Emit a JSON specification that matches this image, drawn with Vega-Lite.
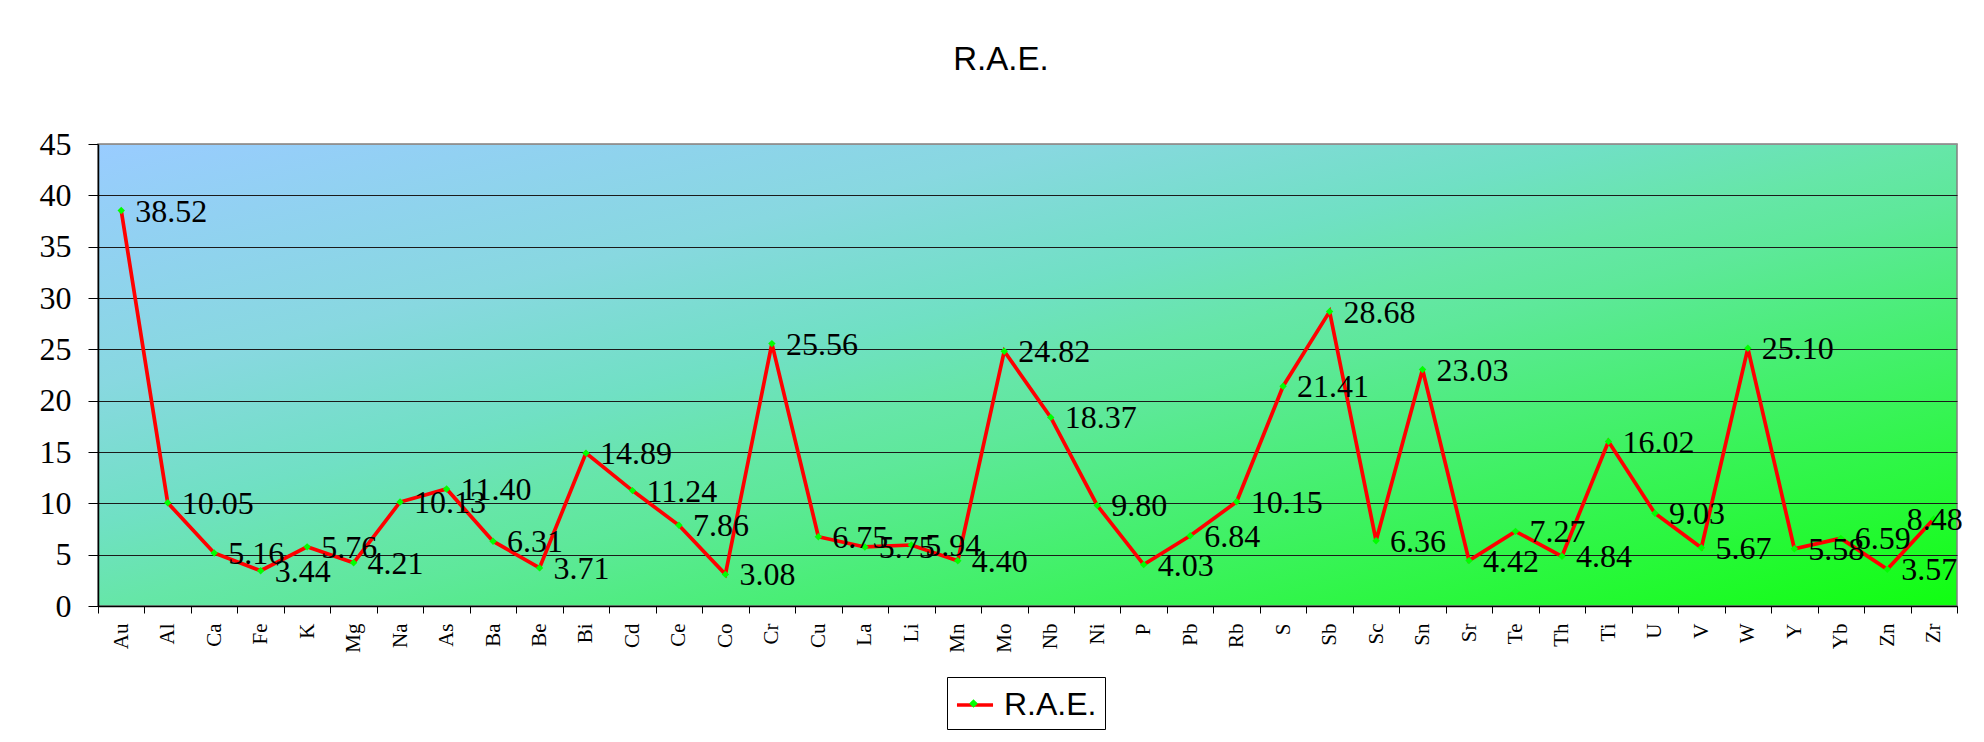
{
  "$schema": "https://vega.github.io/schema/vega-lite/v6.json",
  "width": 1859,
  "height": 462,
  "autosize": "none",
  "padding": {"left": 98, "top": 144, "right": 27, "bottom": 136},
  "background": "white",
  "title": {
    "text": "R.A.E.",
    "font": "Liberation Sans",
    "fontSize": 33,
    "fontWeight": "normal",
    "color": "#000000",
    "anchor": "middle",
    "frame": "bounds",
    "baseline": "alphabetic",
    "offset": 25
  },
  "data": {
    "values": [
      {"element": "Au", "rae": 38.52, "series": "R.A.E."},
      {"element": "Al", "rae": 10.05, "series": "R.A.E."},
      {"element": "Ca", "rae": 5.16, "series": "R.A.E."},
      {"element": "Fe", "rae": 3.44, "series": "R.A.E."},
      {"element": "K", "rae": 5.76, "series": "R.A.E."},
      {"element": "Mg", "rae": 4.21, "series": "R.A.E."},
      {"element": "Na", "rae": 10.13, "series": "R.A.E."},
      {"element": "As", "rae": 11.40, "series": "R.A.E."},
      {"element": "Ba", "rae": 6.31, "series": "R.A.E."},
      {"element": "Be", "rae": 3.71, "series": "R.A.E."},
      {"element": "Bi", "rae": 14.89, "series": "R.A.E."},
      {"element": "Cd", "rae": 11.24, "series": "R.A.E."},
      {"element": "Ce", "rae": 7.86, "series": "R.A.E."},
      {"element": "Co", "rae": 3.08, "series": "R.A.E."},
      {"element": "Cr", "rae": 25.56, "series": "R.A.E."},
      {"element": "Cu", "rae": 6.75, "series": "R.A.E."},
      {"element": "La", "rae": 5.75, "series": "R.A.E."},
      {"element": "Li", "rae": 5.94, "series": "R.A.E."},
      {"element": "Mn", "rae": 4.40, "series": "R.A.E."},
      {"element": "Mo", "rae": 24.82, "series": "R.A.E."},
      {"element": "Nb", "rae": 18.37, "series": "R.A.E."},
      {"element": "Ni", "rae": 9.80, "series": "R.A.E."},
      {"element": "P", "rae": 4.03, "series": "R.A.E."},
      {"element": "Pb", "rae": 6.84, "series": "R.A.E."},
      {"element": "Rb", "rae": 10.15, "series": "R.A.E."},
      {"element": "S", "rae": 21.41, "series": "R.A.E."},
      {"element": "Sb", "rae": 28.68, "series": "R.A.E."},
      {"element": "Sc", "rae": 6.36, "series": "R.A.E."},
      {"element": "Sn", "rae": 23.03, "series": "R.A.E."},
      {"element": "Sr", "rae": 4.42, "series": "R.A.E."},
      {"element": "Te", "rae": 7.27, "series": "R.A.E."},
      {"element": "Th", "rae": 4.84, "series": "R.A.E."},
      {"element": "Ti", "rae": 16.02, "series": "R.A.E."},
      {"element": "U", "rae": 9.03, "series": "R.A.E."},
      {"element": "V", "rae": 5.67, "series": "R.A.E."},
      {"element": "W", "rae": 25.10, "series": "R.A.E."},
      {"element": "Y", "rae": 5.58, "series": "R.A.E."},
      {"element": "Yb", "rae": 6.59, "series": "R.A.E."},
      {"element": "Zn", "rae": 3.57, "series": "R.A.E."},
      {"element": "Zr", "rae": 8.48, "series": "R.A.E."}
    ]
  },
  "encoding": {
    "x": {
      "field": "element",
      "type": "nominal",
      "sort": null,
      "scale": {"type": "band", "paddingInner": 0, "paddingOuter": 0},
      "axis": {
        "title": null,
        "labelAngle": -90,
        "labelAlign": "right",
        "labelBaseline": "middle",
        "labelFont": "Liberation Serif",
        "labelFontSize": 21,
        "labelColor": "#000000",
        "labelPadding": 10,
        "tickBand": "extent",
        "tickColor": "#000000",
        "tickSize": 7,
        "domainColor": "#000000",
        "domainWidth": 1.5,
        "grid": false
      }
    },
    "y": {
      "field": "rae",
      "type": "quantitative",
      "scale": {"domain": [0, 45]},
      "axis": {
        "title": null,
        "values": [0, 5, 10, 15, 20, 25, 30, 35, 40, 45],
        "labelFont": "Liberation Serif",
        "labelFontSize": 32,
        "labelColor": "#000000",
        "labelPadding": 17,
        "tickColor": "#000000",
        "tickSize": 10,
        "domainColor": "#000000",
        "domainWidth": 1.5,
        "grid": true,
        "gridColor": {"condition": {"test": "datum.value === 45", "value": "#909090"}, "value": "#1a1a1a"},
        "gridWidth": 1
      }
    }
  },
  "layer": [
    {
      "mark": {"type": "line", "strokeWidth": 3.7},
      "encoding": {
        "stroke": {
          "field": "series",
          "type": "nominal",
          "scale": {"range": ["#ff0000"]},
          "legend": {
            "title": null,
            "orient": "none",
            "legendX": 849,
            "legendY": 533,
            "direction": "horizontal",
            "padding": 8,
            "strokeColor": "#000000",
            "symbolType": "stroke",
            "symbolSize": 1300,
            "symbolStrokeWidth": 3.5,
            "labelFont": "Liberation Sans",
            "labelFontSize": 32,
            "labelColor": "#000000",
            "labelOffset": 9
          }
        }
      }
    },
    {
      "mark": {"type": "point", "shape": "diamond", "filled": true, "size": 55, "opacity": 1},
      "encoding": {
        "fill": {
          "field": "series",
          "type": "nominal",
          "scale": {"range": ["#00ff00"]},
          "legend": {
            "title": null,
            "orient": "none",
            "legendX": 849,
            "legendY": 533,
            "direction": "horizontal",
            "padding": 8,
            "symbolType": "M0,-0.24L0.24,0L0,0.24L-0.24,0Z",
            "symbolSize": 1300,
            "symbolStrokeWidth": 0,
            "labelFont": "Liberation Sans",
            "labelFontSize": 32,
            "labelOpacity": 0,
            "labelOffset": 9
          }
        }
      }
    },
    {
      "transform": [{"filter": "datum.element !== 'Zr'"}],
      "mark": {
        "type": "text",
        "align": "left",
        "baseline": "middle",
        "dx": 14,
        "dy": 1,
        "font": "Liberation Serif",
        "fontSize": 32,
        "color": "#000000"
      },
      "encoding": {
        "text": {"field": "rae", "type": "quantitative", "format": ".2f"}
      }
    },
    {
      "transform": [{"filter": "datum.element === 'Zr'"}],
      "mark": {
        "type": "text",
        "align": "left",
        "baseline": "middle",
        "dx": -27,
        "dy": 1,
        "font": "Liberation Serif",
        "fontSize": 32,
        "color": "#000000"
      },
      "encoding": {
        "text": {"field": "rae", "type": "quantitative", "format": ".2f"}
      }
    }
  ],
  "resolve": {"legend": {"stroke": "independent", "fill": "independent"}},
  "config": {
    "view": {
      "stroke": "#808080",
      "strokeWidth": 1.5,
      "fill": {
        "gradient": "linear",
        "x1": 0, "y1": 0, "x2": 1, "y2": 1,
        "stops": [
          {"offset": 0, "color": "#99ccff"},
          {"offset": 0.26, "color": "#88d8e0"},
          {"offset": 0.41, "color": "#70e0c4"},
          {"offset": 0.5, "color": "#66e6a8"},
          {"offset": 0.56, "color": "#5ee89a"},
          {"offset": 1, "color": "#10ff10"}
        ]
      }
    }
  }
}
